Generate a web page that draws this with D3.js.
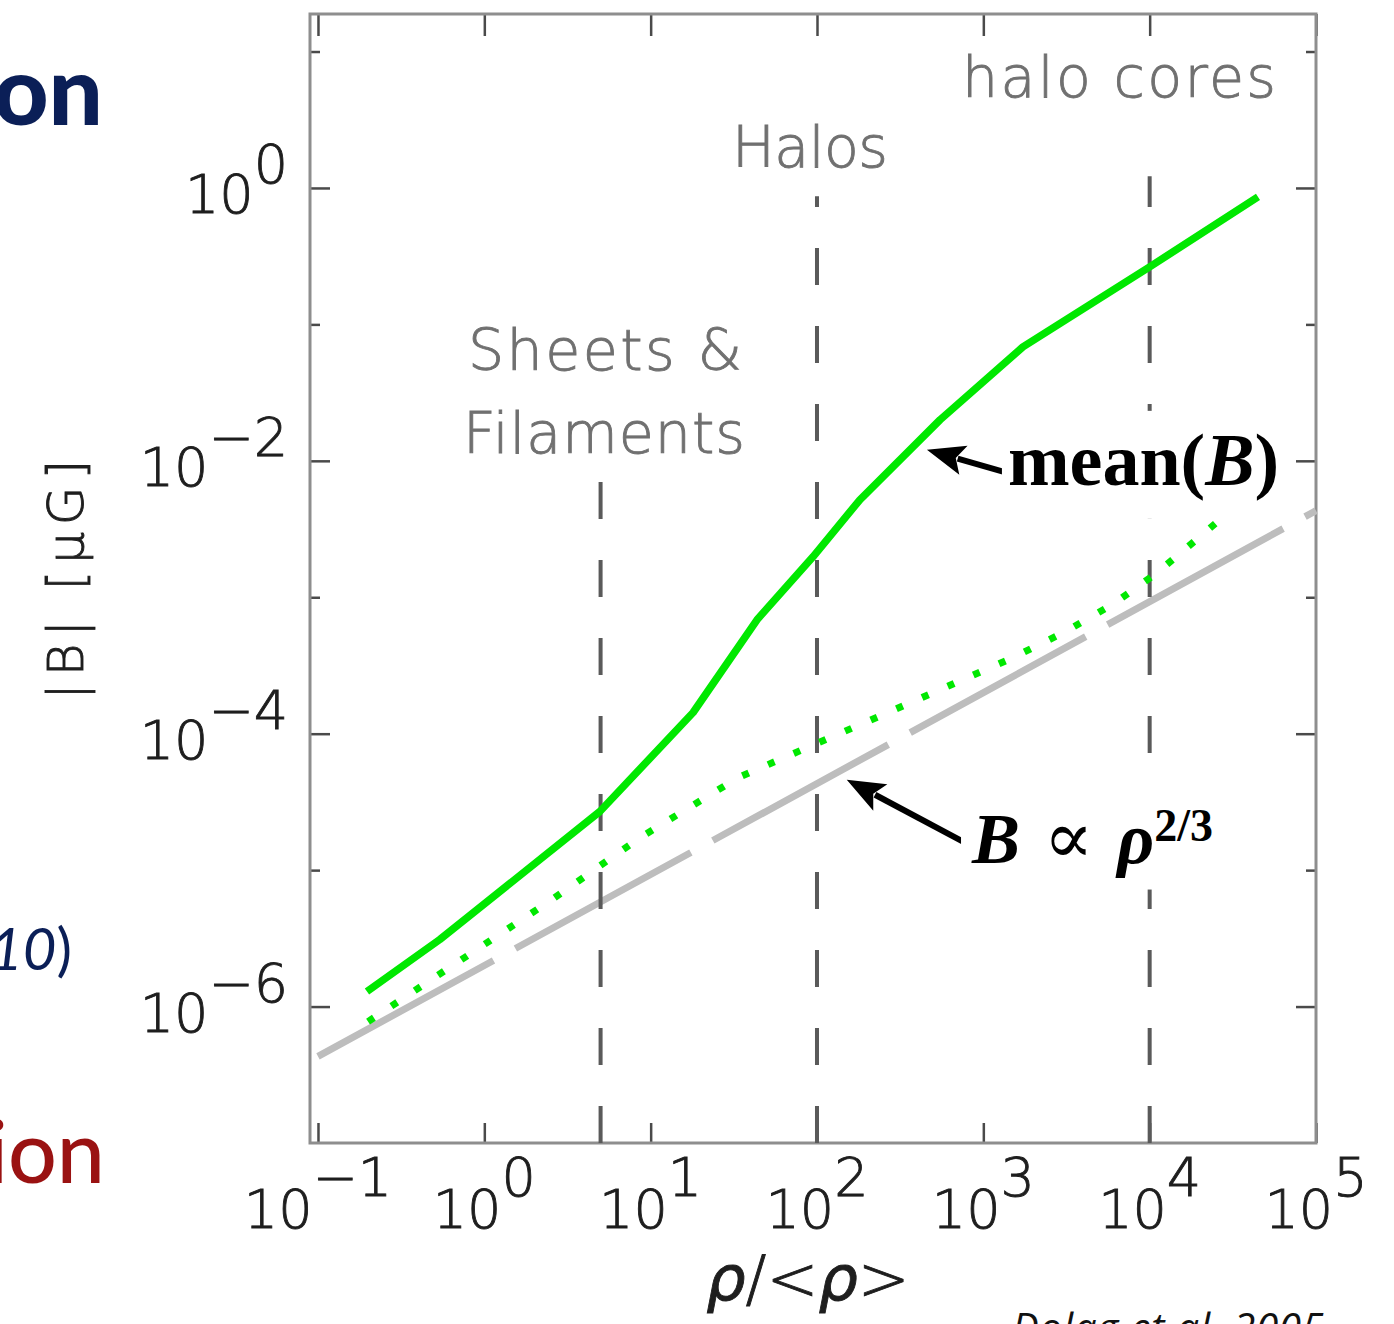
<!DOCTYPE html>
<html>
<head>
<meta charset="utf-8">
<script src="https://cdn.jsdelivr.net/npm/d3@7"></script>
<style>
  html, body { margin: 0; padding: 0; background: #fff; }
  svg { display: block; }
</style>
</head>
<body>
<script>
// ---- data -------------------------------------------------------------
// mean field strength as a function of overdensity
const meanRho = [0.197, 0.54, 4.95, 18.0, 43.6, 94.6, 181, 550, 1730, 10000, 44800];
const meanB   = [1.29e-6, 3.10e-6, 2.69e-5, 1.43e-4, 6.84e-4, 1.98e-3, 5.18e-3, 2.0e-2, 6.84e-2, 0.264, 0.859];

// second (dotted) curve
const dotRho = [0.2, 2.55, 8.63, 33.5, 267, 1507, 3097, 5943, 11070, 26850, 44800];
const dotB   = [7.76e-7, 6.08e-6, 1.73e-5, 4.76e-5, 1.43e-4, 3.61e-4, 5.58e-4, 8.81e-4, 1.51e-3, 3.76e-3, 6.17e-3];

// adiabatic compression reference, B ∝ ρ^(2/3)
const refRho = [0.1, 1e5];
const refB   = [4.31e-7, 4.31e-3];

// environment boundaries (vertical dashed lines) and how high each one reaches
const edgeRho = [5, 100, 1e4];
const edgeTop = [7.9e-3, 0.87, 1.22];

// axis ticks
const xTickValues = [1e-1, 1e0, 1e1, 1e2, 1e3, 1e4, 1e5];
const yMajorValues = [1e0, 1e-2, 1e-4, 1e-6];
const yMinorValues = [1e1, 1e-1, 1e-3, 1e-5];

// ---- layout -----------------------------------------------------------
const W = 1394, H = 1324;
const L = 310, R = 1316, T = 14, B = 1143;

const svg = d3.select("body").append("svg").attr("width", W).attr("height", H);

const x = d3.scaleLog().domain([Math.pow(10, -1.048), 1e5]).range([L, R]);
const y = d3.scaleLog().domain([1e-7, Math.pow(10, 1.275)]).range([B, T]);

const tickFont = "'DejaVu Sans', sans-serif";
const serif = "'Liberation Serif', 'Times New Roman', serif";
const labelFont = "'DejaVu Sans', sans-serif";

// thin vector-style lettering, slightly thickened with an outline
const thinText = (t, color) => t.attr("font-family", tickFont).attr("font-weight", 200)
  .attr("fill", color).attr("stroke", color).attr("stroke-width", 0.9);

// ---- slide fragments on the left edge ---------------------------------
svg.append("text").attr("x", 103).attr("y", 125).attr("text-anchor", "end")
  .attr("font-family", "'Lato', 'Liberation Sans', sans-serif").attr("font-weight", 900)
  .attr("font-size", 96).attr("fill", "#0b1f57").text("on");

const frag = svg.append("text").attr("x", 72).attr("y", 970).attr("text-anchor", "end")
  .attr("font-family", "'Lato', 'Liberation Sans', sans-serif").attr("font-size", 58).attr("fill", "#0b1f57");
frag.append("tspan").attr("font-style", "italic").text("10");
frag.append("tspan").text(")");

svg.append("text").attr("x", 105).attr("y", 1183).attr("text-anchor", "end")
  .attr("font-family", "'Lato', 'Liberation Sans', sans-serif").attr("font-weight", 500)
  .attr("font-size", 86).attr("fill", "#9a1212").text("ion");

svg.append("text").attr("x", 1012).attr("y", 1342)
  .attr("font-family", "'Open Sans', 'Liberation Sans', sans-serif").attr("font-style", "italic")
  .attr("font-size", 40).attr("fill", "#111").attr("textLength", 312).text("Dolag et al. 2005");

// ---- axes -------------------------------------------------------------
function expLabel(v) {
  const e = Math.round(Math.log10(v));
  return e < 0 ? "\u2212" + (-e) : String(e);
}

function styleAxis(g) {
  g.select(".domain").remove();
  g.selectAll(".tick line").attr("stroke", "#4a4a4a").attr("stroke-width", 2.5);
}

svg.append("g").attr("transform", `translate(0,${B})`)
  .call(d3.axisBottom(x).tickValues(xTickValues).tickSizeInner(-20).tickSizeOuter(0).tickFormat(""))
  .call(styleAxis);
svg.append("g").attr("transform", `translate(0,${T})`)
  .call(d3.axisTop(x).tickValues(xTickValues).tickSizeInner(-22).tickSizeOuter(0).tickFormat(""))
  .call(styleAxis);
svg.append("g").attr("transform", `translate(${L},0)`)
  .call(d3.axisLeft(y).tickValues(yMajorValues).tickSizeInner(-20).tickSizeOuter(0).tickFormat(""))
  .call(styleAxis);
svg.append("g").attr("transform", `translate(${L},0)`)
  .call(d3.axisLeft(y).tickValues(yMinorValues).tickSizeInner(-10).tickSizeOuter(0).tickFormat(""))
  .call(styleAxis);
svg.append("g").attr("transform", `translate(${R},0)`)
  .call(d3.axisRight(y).tickValues(yMajorValues).tickSizeInner(-20).tickSizeOuter(0).tickFormat(""))
  .call(styleAxis);
svg.append("g").attr("transform", `translate(${R},0)`)
  .call(d3.axisRight(y).tickValues(yMinorValues).tickSizeInner(-10).tickSizeOuter(0).tickFormat(""))
  .call(styleAxis);

// frame
svg.append("rect").attr("x", L).attr("y", T).attr("width", R - L).attr("height", B - T)
  .attr("fill", "none").attr("stroke", "#8e8e8e").attr("stroke-width", 3);

// tick labels with superscript exponents
svg.append("g").selectAll("text").data(xTickValues).join("text")
  .attr("x", d => x(d)).attr("y", 1228).attr("text-anchor", "middle")
  .call(thinText, "#1e1e1e").attr("font-size", 54)
  .each(function (d) {
    const t = d3.select(this);
    t.append("tspan").text("10");
    t.append("tspan").attr("dy", -32).text(expLabel(d));
  });

svg.append("g").selectAll("text").data(yMajorValues).join("text")
  .attr("x", 288).attr("y", d => y(d) + 25).attr("text-anchor", "end")
  .call(thinText, "#1e1e1e").attr("font-size", 54)
  .each(function (d) {
    const t = d3.select(this);
    t.append("tspan").text("10");
    t.append("tspan").attr("dy", -30).text(expLabel(d));
  });

// axis titles
const xt = svg.append("text").attr("x", 808).attr("y", 1300).attr("text-anchor", "middle")
  .call(thinText, "#1e1e1e").attr("font-size", 62);
xt.append("tspan").attr("font-style", "italic").text("\u03C1");
xt.append("tspan").text("/<");
xt.append("tspan").attr("font-style", "italic").text("\u03C1");
xt.append("tspan").text(">");

svg.append("text").attr("transform", "translate(83,580) rotate(-90)").attr("text-anchor", "middle")
  .call(thinText, "#1e1e1e").attr("font-size", 50)
  .attr("textLength", 240).text("|B| [\u03BCG]");

// ---- region labels ----------------------------------------------------
const regionStyle = t => t.call(thinText, "#707070").attr("font-size", 57).attr("text-anchor", "middle");
svg.append("text").attr("x", x(100) - 7).attr("y", 167).attr("textLength", 156).call(regionStyle).text("Halos");
svg.append("text").attr("x", 1119).attr("y", 97).attr("textLength", 314).call(regionStyle).text("halo  cores");
svg.append("text").attr("x", 605).attr("y", 370).attr("textLength", 274).call(regionStyle).text("Sheets  &");
svg.append("text").attr("x", 604).attr("y", 453).attr("textLength", 282).call(regionStyle).text("Filaments");

// ---- data marks -------------------------------------------------------
const line = d3.line().x(d => x(d[0])).y(d => y(d[1]));

// reference power law
svg.append("path").datum(d3.zip(refRho, refB)).attr("d", line)
  .attr("fill", "none").attr("stroke", "#bdbdbd").attr("stroke-width", 7)
  .attr("stroke-dasharray", "200,25");

// environment boundaries
svg.append("g").selectAll("line").data(d3.zip(edgeRho, edgeTop)).join("line")
  .attr("x1", d => x(d[0])).attr("x2", d => x(d[0]))
  .attr("y1", B).attr("y2", d => y(d[1]))
  .attr("stroke", "#5a5a5a").attr("stroke-width", 4).attr("stroke-dasharray", "37,41");

// dotted curve
svg.append("path").datum(d3.zip(dotRho, dotB)).attr("d", line)
  .attr("fill", "none").attr("stroke", "#00e800").attr("stroke-width", 7)
  .attr("stroke-dasharray", "7,21");

// mean(B)
svg.append("path").datum(d3.zip(meanRho, meanB)).attr("d", line)
  .attr("fill", "none").attr("stroke", "#00e800").attr("stroke-width", 7.5)
  .attr("stroke-linejoin", "round");

// ---- annotations ------------------------------------------------------
function arrow(tip, tail, width) {
  const x0 = x(tail[0]), y0 = y(tail[1]), x1 = x(tip[0]), y1 = y(tip[1]);
  const a = Math.atan2(y1 - y0, x1 - x0);
  const hl = 38, hw = 15;
  const bx = x1 - hl * Math.cos(a), by = y1 - hl * Math.sin(a);
  svg.append("line").attr("x1", x0).attr("y1", y0).attr("x2", bx + 6 * Math.cos(a)).attr("y2", by + 6 * Math.sin(a))
    .attr("stroke", "#000").attr("stroke-width", width);
  const px = -Math.sin(a) * hw, py = Math.cos(a) * hw;
  svg.append("path")
    .attr("d", `M${x1},${y1}L${bx + px},${by + py}L${bx + 8 * Math.cos(a)},${by + 8 * Math.sin(a)}L${bx - px},${by - py}Z`)
    .attr("fill", "#000");
  return [x0, y0];
}

function boxedText(g, padX, padTop, padBottom) {
  const bb = g.node().getBBox();
  g.insert("rect", ":first-child")
    .attr("x", bb.x - padX).attr("y", bb.y - padTop)
    .attr("width", bb.width + 2 * padX).attr("height", bb.height + padTop + padBottom)
    .attr("fill", "#fff");
}

// mean(B) label
const [mx, my] = arrow([458, 0.01205], [1330, 8.3e-3], 6);
const mg = svg.append("g");
const mt = mg.append("text").attr("x", mx + 4).attr("y", my + 13)
  .attr("font-family", serif).attr("font-weight", "bold").attr("font-size", 74).attr("fill", "#000");
mt.append("tspan").text("mean(");
mt.append("tspan").attr("font-style", "italic").text("B");
mt.append("tspan").text(")");
boxedText(mg, 6, 8, 18);

// B ∝ ρ^(2/3) label
const [bx0, by0] = arrow([151, 4.6e-5], [755, 1.62e-5], 6);
const bg = svg.append("g");
const bt = bg.append("text").attr("x", bx0 + 9).attr("y", by0 + 21)
  .attr("font-family", serif).attr("font-size", 72).attr("fill", "#000");
bt.append("tspan").attr("font-weight", "bold").attr("font-style", "italic").text("B");
bt.append("tspan").attr("font-family", "'DejaVu Serif', serif").attr("font-size", 74).text(" \u221D ");
bt.append("tspan").attr("font-weight", "bold").attr("font-style", "italic").text("\u03C1");
bt.append("tspan").attr("font-weight", "bold").attr("font-size", 46).attr("dy", -22).text("2/3");
boxedText(bg, 10, 10, 10);
</script>
</body>
</html>
